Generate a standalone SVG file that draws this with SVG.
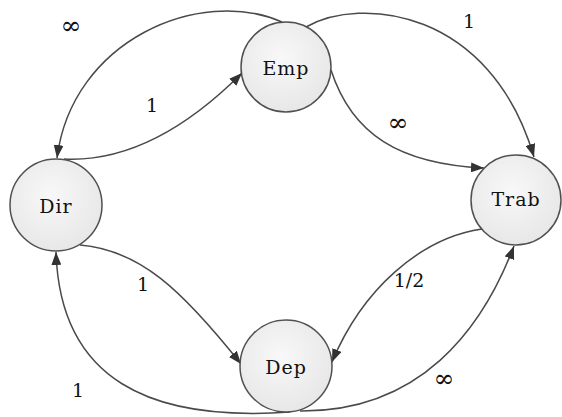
<svg xmlns="http://www.w3.org/2000/svg" width="562" height="417" viewBox="0 0 562 417">
<style>
.node{fill:url(#g);stroke:#505050;stroke-width:1.5}
.nl{font-family:'DejaVu Serif',serif;font-size:19px;letter-spacing:1px;fill:#111;text-anchor:middle}
.edge{fill:none;stroke:#4a4a4a;stroke-width:1.5;marker-end:url(#arr)}
.el{font-family:'DejaVu Serif',serif;font-size:19px;fill:#111;text-anchor:middle}
.inf{font-size:25px}
</style>
<defs>
<radialGradient id="g" cx="0.45" cy="0.4" r="0.65">
<stop offset="0" stop-color="#f8f8f8"/>
<stop offset="1" stop-color="#e6e6e6"/>
</radialGradient>
<marker id="arr" markerUnits="userSpaceOnUse" markerWidth="14" markerHeight="10" refX="13" refY="5" orient="auto">
<path d="M0,0 L13,5 L0,10 z" fill="#333"/>
</marker>
</defs>
<rect width="562" height="417" fill="#fff"/>
<g id="connectors">
<path class="edge" d="M282 22 C200 -14,72 40,57 158"/>
<path class="edge" d="M64 159 C125 162,185 130,242 73"/>
<path class="edge" d="M306 27 C360 -4,490 8,534 157"/>
<path class="edge" d="M331 70 C352 135,400 164,484 168"/>
<path class="edge" d="M80 245 C140 250,182 290,241 364"/>
<path class="edge" d="M290 412 C150 422,60 380,56 252"/>
<path class="edge" d="M482 229 C420 238,362 290,332 362"/>
<path class="edge" d="M300 411 C420 412,482 330,514 246"/>
<text class="el inf" x="71" y="34">∞</text>
<text class="el" x="152" y="112">1</text>
<text class="el" x="469" y="28">1</text>
<text class="el inf" x="398" y="131">∞</text>
<text class="el" x="143" y="291">1</text>
<text class="el" x="78" y="397">1</text>
<text class="el" x="409" y="287">1/2</text>
<text class="el inf" x="444" y="387">∞</text>
</g>
<g id="node-emp"><circle class="node" cx="286" cy="67" r="45"/><text class="nl" x="286" y="75">Emp</text></g>
<g id="node-dir"><circle class="node" cx="56" cy="205" r="46"/><text class="nl" x="56" y="213">Dir</text></g>
<g id="node-trab"><circle class="node" cx="516" cy="200" r="45"/><text class="nl" x="516" y="206">Trab</text></g>
<g id="node-dep"><circle class="node" cx="286" cy="366" r="46"/><text class="nl" x="286" y="374">Dep</text></g>
</svg>
